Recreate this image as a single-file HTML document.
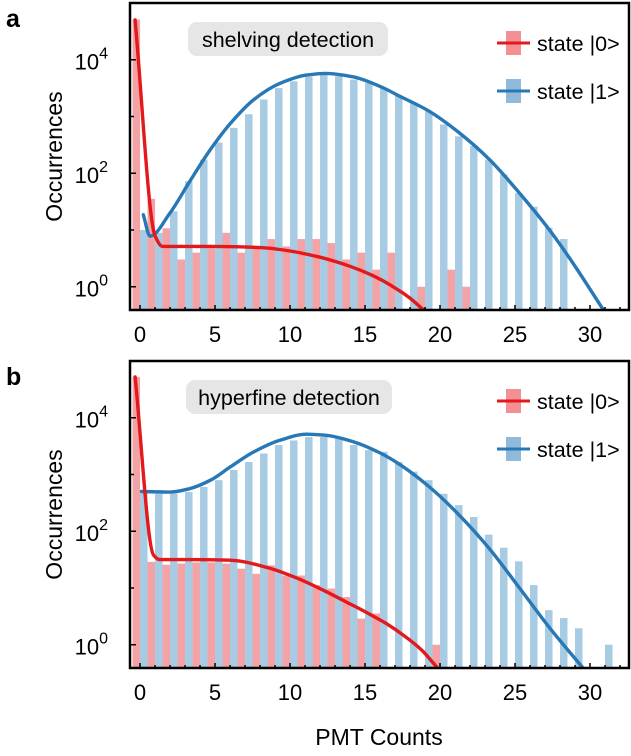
<!DOCTYPE html>
<html><head><meta charset="utf-8"><style>
html,body{margin:0;padding:0;background:#fff;}
svg{display:block;font-family:"Liberation Sans",Arial,sans-serif;}
</style></head><body>
<svg id="fig" width="631" height="756" viewBox="0 0 631 756" xmlns="http://www.w3.org/2000/svg"></svg>
<script>
// ---- data (log10 of occurrences) ----
const countsA0 = [0,1,2,3,4,5,6,7,8,9,10,11,12,13,14,15,16,17,19,21,22];
const logA0    = [4.71,1.55,1.03,0.48,0.6,0.68,0.95,0.6,0.68,0.84,0.71,0.84,0.84,0.77,0.48,0.6,0.3,0.6,0,0.3,0];
const countsA1 = [0,1,2,3,4,5,6,7,8,9,10,11,12,13,14,15,16,17,18,19,20,21,22,23,24,25,26,27,28];
const logA1    = [1.0,0.95,1.33,1.86,2.24,2.54,2.8,3.04,3.3,3.5,3.62,3.7,3.74,3.71,3.65,3.59,3.5,3.36,3.24,3.09,2.86,2.65,2.48,2.24,1.98,1.65,1.41,1.04,0.84];
const fitA0x = [-0.33,1.0,1.5,5,8,10,12,14,15.5,17,18,18.9];
const fitA0y = [4.7,0.9,0.71,0.71,0.69,0.63,0.52,0.36,0.2,-0.02,-0.2,-0.41];
const fitA1x = [0.22,0.67,2,3.3,4.7,6,7.6,9.3,11.1,12.4,14.2,16,17.3,19.3,21.3,23.3,25.3,27.3,28.7,30.9];
const fitA1y = [1.27,0.89,1.3,1.85,2.42,2.87,3.3,3.58,3.73,3.76,3.7,3.53,3.36,3.09,2.71,2.24,1.65,1.0,0.48,-0.41];

const countsB0 = [0,1,2,3,4,5,6,7,8,9,10,11,12,13,14,15,16,20];
const logB0    = [4.72,1.46,1.41,1.43,1.45,1.45,1.43,1.34,1.25,1.4,1.22,1.22,1.05,0.99,0.84,0.46,0.55,0];
const countsB1 = [0,1,2,3,4,5,6,7,8,9,10,11,12,13,14,15,16,17,18,19,20,21,22,23,24,25,26,27,28,29,31];
const logB1    = [2.69,2.66,2.66,2.69,2.78,2.9,3.08,3.22,3.37,3.52,3.6,3.66,3.66,3.64,3.52,3.43,3.4,3.22,3.05,2.9,2.66,2.46,2.25,1.94,1.71,1.47,1.05,0.61,0.47,0.29,0];
const fitB0x = [-0.33,0.9,1.3,3,6,8.5,10.5,12.3,14,15.3,16.5,17.6,18.8,19.8];
const fitB0y = [4.72,1.58,1.5,1.5,1.49,1.36,1.17,0.95,0.72,0.54,0.36,0.16,-0.1,-0.4];
const fitB1x = [0.1,2,3.3,4.7,6,7.6,9.3,11.1,12.4,14.2,16,17.3,19.3,21.3,23.3,25.3,27.3,29.5];
const fitB1y = [2.7,2.69,2.75,2.9,3.13,3.4,3.6,3.71,3.69,3.58,3.38,3.18,2.78,2.28,1.69,1.0,0.3,-0.4];

const xTicks = [0,5,10,15,20,25,30];
const yTicks = [0,2,4];

const NS = "http://www.w3.org/2000/svg";
const svg = document.getElementById('fig');
function mk(tag, attrs, parent){ const e=document.createElementNS(NS,tag); for(const k in attrs) e.setAttribute(k,attrs[k]); (parent||svg).appendChild(e); return e; }

const X0=130, X1=629, CMIN=-0.67, CMAX=32.6;
const xs = c => X0 + (c-CMIN)/(CMAX-CMIN)*(X1-X0);
const LMIN=-0.41, LMAX=5.0;

// monotone cubic (Fritsch-Carlson) path through points with increasing x
function monotone(pts){
  const n=pts.length, dx=[], m=[], t=new Array(n);
  for(let i=0;i<n-1;i++){ dx.push(pts[i+1][0]-pts[i][0]); m.push((pts[i+1][1]-pts[i][1])/dx[i]); }
  t[0]=m[0]; t[n-1]=m[n-2];
  for(let i=1;i<n-1;i++){
    if(m[i-1]*m[i]<=0) t[i]=0;
    else { const w1=2*dx[i]+dx[i-1], w2=dx[i]+2*dx[i-1]; t[i]=(w1+w2)/(w1/m[i-1]+w2/m[i]); }
  }
  let d='M'+pts[0][0].toFixed(1)+','+pts[0][1].toFixed(1);
  for(let i=0;i<n-1;i++){
    const h=dx[i]/3;
    d+='C'+(pts[i][0]+h).toFixed(1)+','+(pts[i][1]+t[i]*h).toFixed(1)+' '+(pts[i+1][0]-h).toFixed(1)+','+(pts[i+1][1]-t[i+1]*h).toFixed(1)+' '+pts[i+1][0].toFixed(1)+','+pts[i+1][1].toFixed(1);
  }
  return d;
}

function panel(top, bottom, letter, title, c0, l0, c1, l1, f0x, f0y, f1x, f1y, pname){
  const ys = l => bottom - (l-LMIN)/(LMAX-LMIN)*(bottom-top);
  const g = mk('g',{});
  
  
  const clipId='clip'+letter;
  const cp=mk('clipPath',{id:clipId},g); mk('rect',{x:X0,y:top,width:X1-X0,height:bottom-top},cp);
  const plot=mk('g',{'clip-path':'url(#'+clipId+')'},g);
  const w = xs(0.5)-xs(0);
  c0.forEach((c,i)=>{ const r=mk('rect',{x:xs(c)-w,y:ys(l0[i]),width:w,height:bottom-ys(l0[i]),fill:'#f3a3a5'},plot);
    
     });
  c1.forEach((c,i)=>{ const r=mk('rect',{x:xs(c),y:ys(l1[i]),width:w,height:bottom-ys(l1[i]),fill:'#a7cbe3'},plot);
    
     });
  function line(fx,fy,col,name){
    const pts=fx.map((x,i)=>[xs(x),ys(fy[i])]);
    const p=mk('path',{d:monotone(pts),fill:'none',stroke:col,'stroke-width':3.4,'stroke-linejoin':'round','stroke-linecap':'round'},plot);
    
    
  }
  line(f1x,f1y,'#2878b5','fit-state1');
  line(f0x,f0y,'#e3191c','fit-state0');
  for(let c=0;c<=32;c++){ mk('line',{x1:xs(c),x2:xs(c),y1:bottom,y2:bottom-(c%5===0?5:3),stroke:'#000','stroke-width':1.5},g); }
  xTicks.forEach(c=>{ const t=mk('text',{x:xs(c),y:bottom+32,'font-size':22,'text-anchor':'middle'},g); t.textContent=c;
      });
  for(let l=0;l<=5;l++){ mk('line',{x1:X0,x2:X0+(l%2===0?6:4),y1:ys(l),y2:ys(l),stroke:'#000','stroke-width':1.5},g); }
  yTicks.forEach(l=>{ const t=mk('text',{x:108,y:ys(l)+10,'font-size':22,'text-anchor':'end'},g);
    t.appendChild(document.createTextNode('10'));
    const s=mk('tspan',{dy:-11,'font-size':16},t); s.textContent=l;
      });
  mk('rect',{x:X0,y:top,width:X1-X0,height:bottom-top,fill:'none',stroke:'#000','stroke-width':2.5},g);
  const yt=mk('text',{x:0,y:0,'font-size':23,'text-anchor':'middle',transform:'translate(62,'+((top+bottom)/2)+') rotate(-90)'},g);
  yt.textContent='Occurrences';  
  const pl=mk('text',{x:6,y:top+24,'font-size':25,'font-weight':'bold'},g);
  pl.textContent=letter;  
  const bw = letter==='a'?200:206;
  const bx = letter==='a'?188:186;
  const tb=mk('rect',{x:bx,y:top+19,width:bw,height:34,rx:9,fill:'#e6e6e6'},g);
   
  const tt=mk('text',{x:bx+bw/2,y:top+44,'font-size':21.5,'text-anchor':'middle'},g); tt.textContent=title;
   
  [['state |0>','#f29093','#e3191c',top+40],['state |1>','#8fbadb','#2878b5',top+88]].forEach((L,i)=>{
    const lg=mk('g',{},g);
    
    
    mk('rect',{x:506,y:L[3]-12,width:15,height:24,fill:L[1]},lg);
    mk('line',{x1:497,x2:530,y1:L[3],y2:L[3],stroke:L[2],'stroke-width':3},lg);
    const t=mk('text',{x:537,y:L[3]+8,'font-size':21.5},lg); t.textContent=L[0];
  });
}
panel(3,310,'a','shelving detection',countsA0,logA0,countsA1,logA1,fitA0x,fitA0y,fitA1x,fitA1y,'panel-a-shelving');
panel(361,668,'b','hyperfine detection',countsB0,logB0,countsB1,logB1,fitB0x,fitB0y,fitB1x,fitB1y,'panel-b-hyperfine');
const xl=mk('text',{x:379,y:745,'font-size':23,'text-anchor':'middle'});
xl.textContent='PMT Counts';


</script>
</body></html>
